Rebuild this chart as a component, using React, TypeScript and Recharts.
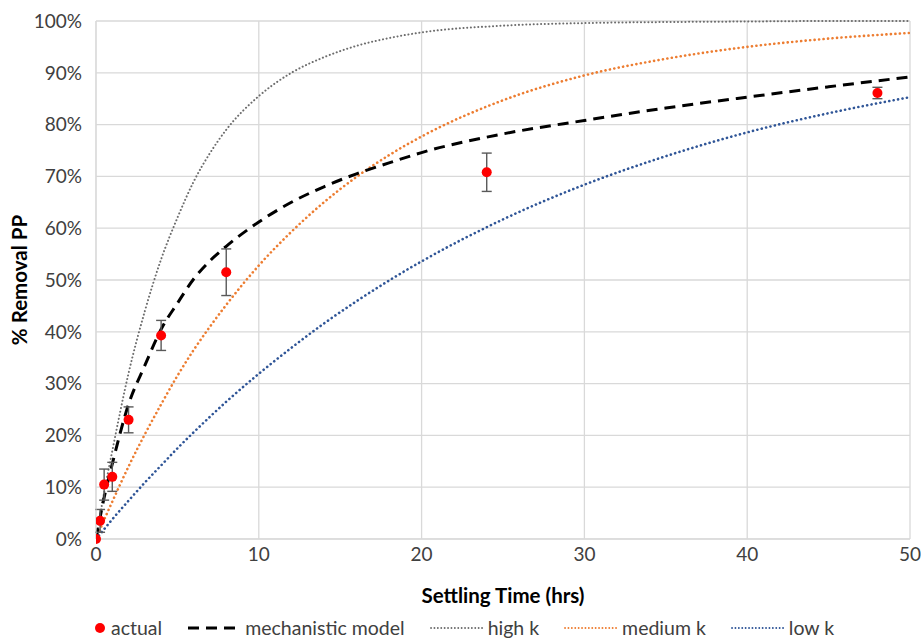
import React from 'react';
import {
  ComposedChart, Line, Scatter, ErrorBar, XAxis, YAxis,
  CartesianGrid, Legend
} from 'recharts';

const curveHours = [0, 0.5, 1, 2, 3, 4, 5, 6, 7, 8, 10, 12, 14, 16, 18, 20, 25, 30, 35, 40, 45, 50];

// % removal for each model curve
const mechanistic = [0, 8, 14.5, 26, 33.5, 40.5, 45.5, 50.2, 53.7, 56.5, 61.2, 65, 68, 70.5, 72.6, 74.6, 78.2, 80.8, 83.2, 85.3, 87.3, 89.2];
const highK = [0, 9, 17, 32, 44, 54, 62, 69, 74.5, 79, 85.5, 90, 93, 95.2, 96.7, 97.8, 99.1, 99.6, 99.8, 99.9, 100, 100];
const mediumK = [0, 3.7, 7.2, 14, 20.2, 26, 31.5, 36.5, 41, 45.2, 52.8, 59.3, 65, 69.9, 74.1, 77.7, 84.7, 89.5, 92.7, 95, 96.6, 97.7];
const lowK = [0, 1.9, 3.8, 7.4, 10.9, 14.2, 17.5, 20.6, 23.6, 26.5, 31.9, 36.9, 41.6, 45.9, 49.9, 53.6, 61.7, 68.4, 73.9, 78.5, 82.2, 85.3];

// measured points
const actualHours = [0, 0.25, 0.5, 1, 2, 4, 8, 24, 48];
const actualRemoval = [0, 3.5, 10.5, 12, 23, 39.3, 51.5, 70.8, 86.1];
const actualError = [0, 2.2, 3, 2.8, 2.5, 2.9, 4.5, 3.7, 1.1];

const xTicks = [0, 10, 20, 30, 40, 50];
const yTicks = [0, 10, 20, 30, 40, 50, 60, 70, 80, 90, 100];

const toSeries = (vals: number[]) => curveHours.map((t, i) => ({ t, v: vals[i] }));
const actualData = actualHours.map((t, i) => ({ t, v: actualRemoval[i], err: actualError[i] }));

const FONT = 'Lato, "Open Sans", sans-serif';
const GRID = '#d9d9d9';

const legendItems = [
  { name: 'actual', kind: 'dot', color: '#ff0000' },
  { name: 'mechanistic model', kind: 'dash', color: '#000000' },
  { name: 'high k', kind: 'dot-line', color: '#6d6d6d' },
  { name: 'medium k', kind: 'dot-line', color: '#ed7d31' },
  { name: 'low k', kind: 'dot-line', color: '#2f5597' },
];

const LegendContent = () => (
  <div style={{ display: 'flex', alignItems: 'center', fontFamily: FONT, fontSize: 19.5, color: '#404040' }}>
    {legendItems.map((item) => (
      <div key={item.name} style={{ display: 'flex', alignItems: 'center', marginRight: 24 }}>
        {item.kind === 'dot' ? (
          <svg width={12} height={14} style={{ marginRight: 4 }}>
            <circle cx={5} cy={7} r={5} fill={item.color} />
          </svg>
        ) : (
          <svg width={56} height={14} style={{ marginRight: 3 }}>
            <line
              x1={2} y1={7} x2={55} y2={7}
              stroke={item.color}
              strokeWidth={item.kind === 'dash' ? 3 : 1.8}
              strokeLinecap={item.kind === 'dash' ? 'butt' : 'round'}
              strokeDasharray={item.kind === 'dash' ? '11 7' : '0.1 3.3'}
            />
          </svg>
        )}
        <span>{item.name}</span>
      </div>
    ))}
  </div>
);

const App: React.FC = () => {
  return (
    <div style={{ position: 'absolute', left: 0, top: 0, width: 921, height: 638, background: '#fff' }}>
      <ComposedChart width={921} height={638} margin={{ top: 21, right: 11, bottom: 59, left: 0 }}>
        <CartesianGrid stroke={GRID} strokeWidth={1.3} />
        <XAxis
          type="number"
          dataKey="t"
          domain={[0, 50]}
          ticks={xTicks}
          allowDataOverflow
          height={40}
          stroke={GRID}
          tickLine={false}
          tickSize={0}
          tickMargin={9}
          tick={{ fill: '#404040', fontSize: 19, fontFamily: FONT }}
          label={{
            value: 'Settling Time (hrs)', position: 'bottom', offset: 9,
            style: { fill: '#000', fontSize: 20.5, fontWeight: 700, fontFamily: FONT }
          }}
        />
        <YAxis
          type="number"
          domain={[0, 100]}
          ticks={yTicks}
          width={96}
          stroke={GRID}
          tickLine={false}
          tickSize={0}
          tickMargin={14}
          tickFormatter={(v) => `${v}%`}
          tick={{ fill: '#404040', fontSize: 19, fontFamily: FONT }}
          label={{
            value: '% Removal PP', angle: -90, position: 'insideLeft', offset: 20,
            style: { fill: '#000', fontSize: 20.5, fontWeight: 700, fontFamily: FONT, textAnchor: 'middle' }
          }}
        />
        <Legend
          layout="horizontal"
          verticalAlign="middle"
          align="center"
          content={<LegendContent />}
          wrapperStyle={{ top: 616, left: 95, width: 820 }}
        />
        <Line data={toSeries(highK)} dataKey="v" type="monotone" stroke="#6d6d6d" strokeWidth={2} strokeLinecap="round" strokeDasharray="0.1 3.6" dot={false} isAnimationActive={false} />
        <Line data={toSeries(mediumK)} dataKey="v" type="monotone" stroke="#ed7d31" strokeWidth={2.6} strokeLinecap="round" strokeDasharray="0.1 4.4" dot={false} isAnimationActive={false} />
        <Line data={toSeries(lowK)} dataKey="v" type="monotone" stroke="#2f5597" strokeWidth={2.6} strokeLinecap="round" strokeDasharray="0.1 4.4" dot={false} isAnimationActive={false} />
        <Line data={toSeries(mechanistic)} dataKey="v" type="monotone" stroke="#000" strokeWidth={3} strokeDasharray="11 7" dot={false} isAnimationActive={false} />
        <Scatter
          data={actualData}
          dataKey="v"
          fill="#ff0000"
          isAnimationActive={false}
          shape={(p: any) => <circle cx={p.cx} cy={p.cy} r={5} fill="#ff0000" />}
        >
          <ErrorBar dataKey="err" direction="y" width={5} stroke="#595959" strokeWidth={1.4} />
        </Scatter>
      </ComposedChart>
    </div>
  );
};

export default App;
